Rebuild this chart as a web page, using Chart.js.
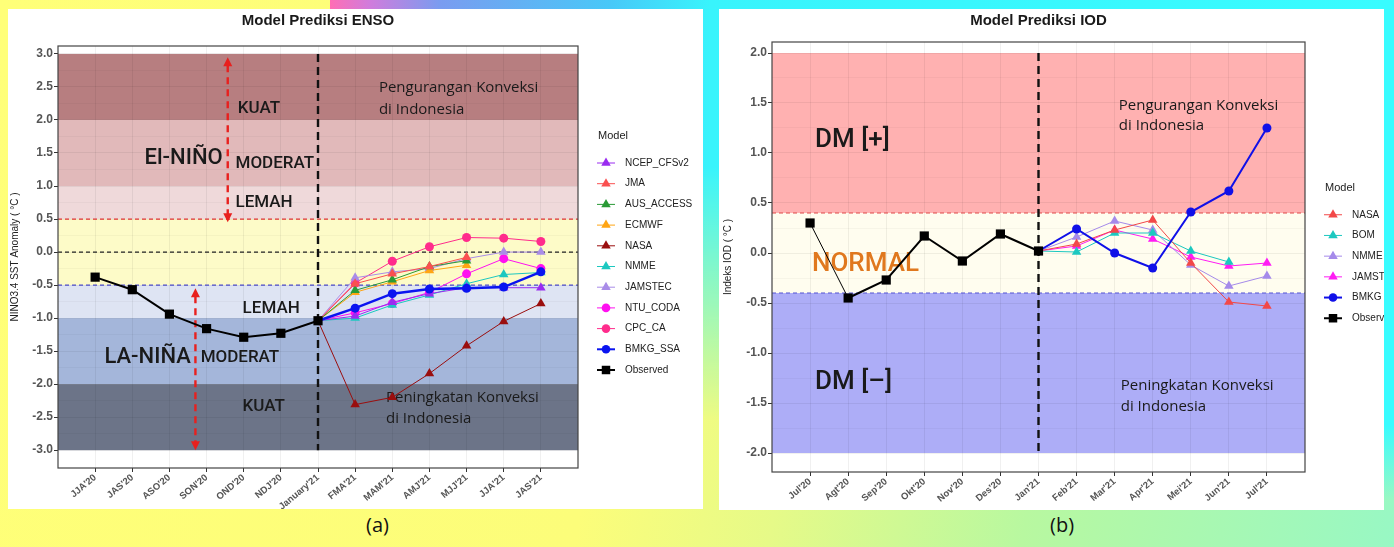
<!DOCTYPE html>
<html>
<head>
<meta charset="utf-8">
<script src="https://cdn.jsdelivr.net/npm/chart.js@4.4.0/dist/chart.umd.min.js"></script>
<style>
  html, body { margin: 0; padding: 0; }
  body {
    width: 1394px; height: 547px; overflow: hidden; position: relative;
    background: linear-gradient(100deg, #ffff78 0%, #fcfd7a 45%, #e6fa88 58%, #b8f8a0 75%, #98f8c4 100%);
    font-family: 'Liberation Sans', Arial, sans-serif;
  }
  #sky {
    position: absolute; left: 330px; top: 0; width: 1064px; height: 420px;
    background: linear-gradient(90deg, #ff6eb4 0px, #d07cdc 40px, #7a9cf0 110px, #48c8f8 280px, #38f4fc 380px, #38fcff 1064px);
    -webkit-mask-image: linear-gradient(180deg, #000 0%, #000 40%, transparent 100%);
    mask-image: linear-gradient(180deg, #000 0%, #000 40%, transparent 100%);
  }
  #edge {
    position: absolute; left: 1380px; top: 0; width: 14px; height: 500px;
    background: linear-gradient(180deg, #38fcff 0%, #38fcff 85%, rgba(56,252,255,0) 100%);
  }
  .panel { position: absolute; background: #fff; }
  #pa { left: 8px; top: 9px; width: 695px; height: 500px; }
  #pb { left: 719px; top: 9px; width: 665px; height: 501px; }
  .cap { position: absolute; top: 511px; font: 20px 'Open Sans', sans-serif; color: #111; }
</style>
</head>
<body>
<div id="sky"></div>
<div id="edge"></div>
<div class="panel" id="pa"><canvas id="enso"></canvas></div>
<div class="panel" id="pb"><canvas id="iod"></canvas></div>
<div class="cap" style="left:366px">(a)</div>
<div class="cap" style="left:1050px">(b)</div>
<script>
// ---- ENSO data ----
const ensoSeasons = ["JJA'20", "JAS'20", "ASO'20", "SON'20", "OND'20", "NDJ'20", "January'21",
  "FMA'21", "MAM'21", "AMJ'21", "MJJ'21", "JJA'21", "JAS'21"];
const ensoYTicks = [3.0, 2.5, 2.0, 1.5, 1.0, 0.5, 0.0, -0.5, -1.0, -1.5, -2.0, -2.5, -3.0];
const ensoBandEdges = [3.0, 2.0, 1.0, 0.5, -0.5, -1.0, -2.0, -3.0];
const ensoForecastStart = 6; // model runs start at January'21
const ensoObserved = [-0.38, -0.57, -0.94, -1.16, -1.29, -1.23, -1.04];
const ensoNcepCfsv2 = [-1.04, -0.97, -0.76, -0.63, -0.54, -0.54, -0.54];
const ensoJma = [-1.04, -0.48, -0.33, -0.22, -0.08];
const ensoAusAccess = [-1.04, -0.58, -0.42, -0.22, -0.13];
const ensoEcmwf = [-1.04, -0.61, -0.45, -0.28, -0.20];
const ensoNasa = [-1.04, -2.31, -2.20, -1.84, -1.42, -1.05, -0.78];
const ensoNmme = [-1.04, -1.00, -0.80, -0.65, -0.48, -0.34, -0.31];
const ensoJamstec = [-1.04, -0.39, -0.30, -0.25, -0.10, 0.00, 0.00];
const ensoNtuCoda = [-1.04, -0.92, -0.78, -0.61, -0.33, -0.10, -0.25];
const ensoCpcCa = [-1.04, -0.47, -0.14, 0.08, 0.22, 0.21, 0.16];
const ensoBmkgSsa = [-1.04, -0.85, -0.63, -0.56, -0.55, -0.53, -0.30];

// ---- IOD data ----
const iodMonths = ["Jul'20", "Agt'20", "Sep'20", "Okt'20", "Nov'20", "Des'20", "Jan'21",
  "Feb'21", "Mar'21", "Apr'21", "Mei'21", "Jun'21", "Jul'21"];
const iodYTicks = [2.0, 1.5, 1.0, 0.5, 0.0, -0.5, -1.0, -1.5, -2.0];
const iodBandEdges = [2.0, 0.4, -0.4, -2.0];
const iodForecastStart = 6; // Jan'21
const iodObserved = [0.30, -0.45, -0.27, 0.17, -0.08, 0.19, 0.02];
const iodNasa = [0.02, 0.09, 0.23, 0.33, -0.10, -0.49, -0.53];
const iodBom = [0.02, 0.01, 0.20, 0.20, 0.02, -0.09];
const iodNmme = [0.02, 0.16, 0.32, 0.23, -0.12, -0.33, -0.23];
const iodJamstec = [0.02, 0.07, 0.23, 0.14, -0.04, -0.13, -0.10];
const iodBmkg = [0.02, 0.24, 0.00, -0.15, 0.41, 0.62, 1.25];

const DIN = 'Roboto, sans-serif';
const CAL = "'Open Sans', sans-serif";

function points(values, start) {
  return values.map((v, i) => ({ x: start + i, y: v }));
}

function series(label, values, start, color, shape, width, order) {
  const r = shape === 'rect' ? 6.5 : (shape === 'circle' ? 4.5 : 5.5);
  return {
    label, data: points(values, start), order,
    borderColor: color, backgroundColor: color, borderWidth: width,
    pointStyle: shape, pointBorderWidth: 0,
    pointRadius: c => (start > 0 && c.dataIndex === 0) ? 0 : r,
    tension: 0
  };
}

function arrowHead(ctx, px, py, dir) {
  ctx.beginPath();
  ctx.moveTo(px, py);
  ctx.lineTo(px - 4.5, py - dir * 9);
  ctx.lineTo(px + 4.5, py - dir * 9);
  ctx.closePath();
  ctx.fill();
}

const decor = {
  id: 'decor',
  beforeDraw(chart, args, o) {
    const { ctx, chartArea: a, scales: { y } } = chart;
    ctx.save();
    for (let i = 0; i < o.edges.length - 1; i++) {
      const top = y.getPixelForValue(o.edges[i]);
      const bot = y.getPixelForValue(o.edges[i + 1]);
      ctx.fillStyle = o.bandColors[i];
      ctx.fillRect(a.left, top, a.right - a.left, bot - top);
    }
    ctx.restore();
  },
  beforeDatasetsDraw(chart, args, o) {
    const { ctx, chartArea: a, scales: { x, y } } = chart;
    ctx.save();
    // threshold lines
    o.hlines.forEach(h => {
      const py = y.getPixelForValue(h.y);
      ctx.strokeStyle = h.color; ctx.lineWidth = 1.2; ctx.setLineDash([4, 3]);
      ctx.beginPath(); ctx.moveTo(a.left, py); ctx.lineTo(a.right, py); ctx.stroke();
    });
    // forecast start
    const vx = x.getPixelForValue(o.vline.x);
    ctx.strokeStyle = '#111'; ctx.lineWidth = 2.4; ctx.setLineDash([8, 5]);
    ctx.beginPath(); ctx.moveTo(vx, y.getPixelForValue(o.vline.y0)); ctx.lineTo(vx, y.getPixelForValue(o.vline.y1)); ctx.stroke();
    // double arrows
    (o.arrows || []).forEach(ar => {
      const px = x.getPixelForValue(ar.x);
      const t = y.getPixelForValue(ar.y0), b = y.getPixelForValue(ar.y1);
      ctx.strokeStyle = '#e8201e'; ctx.fillStyle = '#e8201e'; ctx.lineWidth = 2.4; ctx.setLineDash([7, 5]);
      ctx.beginPath(); ctx.moveTo(px, t + 8); ctx.lineTo(px, b - 8); ctx.stroke();
      ctx.setLineDash([]);
      arrowHead(ctx, px, t, -1);
      arrowHead(ctx, px, b, 1);
    });
    ctx.setLineDash([]);
    // labels
    ctx.textAlign = 'left'; ctx.textBaseline = 'middle';
    o.texts.forEach(t => {
      ctx.font = t.font; ctx.fillStyle = t.color || '#1a1a1a';
      ctx.fillText(t.text, x.getPixelForValue(t.x), y.getPixelForValue(t.y));
    });
    ctx.restore();
  },
  afterDatasetsDraw(chart) {
    const { ctx, chartArea: a } = chart;
    ctx.save();
    ctx.strokeStyle = '#444'; ctx.lineWidth = 1.2;
    ctx.strokeRect(a.left, a.top, a.right - a.left, a.bottom - a.top);
    ctx.restore();
  },
  afterDraw(chart, args, o) {
    const { ctx, chartArea: a } = chart;
    const sets = chart.data.datasets;
    const step = 20.7;
    const mid = (a.top + a.bottom) / 2;
    const ty = mid - (27 + (sets.length - 1) * step) / 2 - 4;
    ctx.save();
    ctx.textAlign = 'left'; ctx.textBaseline = 'middle';
    ctx.fillStyle = '#222'; ctx.font = "11px 'Liberation Sans', Arial";
    ctx.fillText('Model', a.right + o.legendX - 8, ty);
    ctx.font = "10px 'Liberation Sans', Arial";
    sets.forEach((d, i) => {
      const cy = ty + 27 + i * step, cx = a.right + o.legendX;
      ctx.strokeStyle = d.borderColor; ctx.lineWidth = Math.min(d.borderWidth, 2);
      ctx.beginPath(); ctx.moveTo(cx - 9, cy); ctx.lineTo(cx + 9, cy); ctx.stroke();
      ctx.fillStyle = d.backgroundColor;
      const r = d.pointStyle === 'rect' ? 6 : (d.pointStyle === 'circle' ? 4.3 : 5.5);
      Chart.helpers.drawPoint(ctx, { pointStyle: d.pointStyle, radius: r, borderWidth: 0, rotation: 0 }, cx, cy);
      ctx.fillStyle = '#222';
      ctx.fillText(d.label, a.right + o.legendX + 19, cy);
    });
    ctx.restore();
  }
};

function yAxis(ticks, min, max, width, title, titlePad) {
  const major = v => ticks.includes(v);
  return {
    type: 'linear', min, max,
    afterFit: s => { s.width = width; },
    afterBuildTicks: s => {
      const vals = [];
      ticks.forEach((t, i) => { vals.push(t); if (i < ticks.length - 1) vals.push((t + ticks[i + 1]) / 2); });
      s.ticks = vals.map(v => ({ value: v }));
    },
    ticks: {
      callback: v => major(v) ? v.toFixed(1) : '',
      color: '#555', font: { family: "'Liberation Sans', Arial", size: 12, weight: 'bold' }, padding: 1
    },
    grid: {
      color: c => major(c.tick.value) ? 'rgba(0,0,0,0.06)' : 'rgba(0,0,0,0.03)',
      tickColor: c => major(c.tick.value) ? '#333' : 'rgba(0,0,0,0)',
      tickLength: 4, lineWidth: 1
    },
    border: { display: false },
    title: { display: true, text: title, color: '#222', font: { family: "'Liberation Sans', Arial", size: 10 }, padding: { top: titlePad, bottom: 0 } }
  };
}

function xAxis(labels, height) {
  return {
    type: 'linear', min: -1, max: labels.length,
    afterFit: s => { s.height = height; },
    afterBuildTicks: s => { s.ticks = labels.map((_, i) => ({ value: i })); },
    ticks: {
      callback: v => labels[v], autoSkip: false, minRotation: 40, maxRotation: 40,
      color: '#555', font: { family: "'Liberation Sans', Arial", size: 9.5, weight: 'bold' }, padding: 0
    },
    grid: { color: 'rgba(0,0,0,0.06)', tickColor: '#333', tickLength: 4 },
    border: { display: false }
  };
}

function titleOpts(text, top, bottom) {
  return {
    display: true, text, fullSize: false, color: '#1a1a1a',
    font: { family: "'Liberation Sans', Arial", size: 15, weight: 'bold' },
    padding: { top, bottom }
  };
}

const s = ensoForecastStart;
new Chart(document.getElementById('enso'), {
  type: 'line',
  data: {
    datasets: [
      series('NCEP_CFSv2', ensoNcepCfsv2, s, '#9a2cf0', 'triangle', 1, 5),
      series('JMA', ensoJma, s, '#fa5050', 'triangle', 1, 5),
      series('AUS_ACCESS', ensoAusAccess, s, '#2a9a36', 'triangle', 1, 5),
      series('ECMWF', ensoEcmwf, s, '#ffa514', 'triangle', 1, 5),
      series('NASA', ensoNasa, s, '#9a0e0e', 'triangle', 1, 5),
      series('NMME', ensoNmme, s, '#1cc8c0', 'triangle', 1, 5),
      series('JAMSTEC', ensoJamstec, s, '#a98ce8', 'triangle', 1, 5),
      series('NTU_CODA', ensoNtuCoda, s, '#ff10f0', 'circle', 1, 5),
      series('CPC_CA', ensoCpcCa, s, '#ff2c8c', 'circle', 1, 5),
      series('BMKG_SSA', ensoBmkgSsa, s, '#0a14f0', 'circle', 2.5, 1),
      series('Observed', ensoObserved, 0, '#000000', 'rect', 2, 0)
    ]
  },
  plugins: [decor],
  options: {
    responsive: true, maintainAspectRatio: false, animation: false,
    layout: { padding: { left: 0, right: 125, top: 0, bottom: 0 } },
    plugins: {
      legend: { display: false }, tooltip: { enabled: false },
      title: titleOpts('Model Prediksi ENSO', 3, 16),
      decor: {
        edges: ensoBandEdges,
        bandColors: ['#b77e80', '#e1b9ba', '#efd9da', '#fdfbc8', '#dee4f3', '#a4b6da', '#6c7488'],
        hlines: [{ y: 0.5, color: '#e03434' }, { y: 0, color: '#222' }, { y: -0.5, color: '#4a4ac8' }],
        vline: { x: 6, y0: 3.0, y1: -3.0 },
        arrows: [{ x: 3.57, y0: 2.95, y1: 0.45 }, { x: 2.70, y0: -0.55, y1: -3.0 }],
        texts: [
          { text: 'KUAT', x: 3.84, y: 2.17, font: '500 17px ' + DIN },
          { text: 'MODERAT', x: 3.78, y: 1.34, font: '500 17px ' + DIN },
          { text: 'LEMAH', x: 3.78, y: 0.75, font: '500 17px ' + DIN },
          { text: 'El-NIÑO', x: 1.33, y: 1.42, font: '500 22px ' + DIN },
          { text: 'Pengurangan Konveksi', x: 7.64, y: 2.49, font: '15px ' + CAL },
          { text: 'di Indonesia', x: 7.64, y: 2.16, font: '15px ' + CAL },
          { text: 'LEMAH', x: 3.97, y: -0.86, font: '500 17px ' + DIN },
          { text: 'LA-NIÑA', x: 0.25, y: -1.60, font: '500 22px ' + DIN },
          { text: 'MODERAT', x: 2.84, y: -1.60, font: '500 17px ' + DIN },
          { text: 'KUAT', x: 3.97, y: -2.34, font: '500 17px ' + DIN },
          { text: 'Peningkatan Konveksi', x: 7.83, y: -2.20, font: '15px ' + CAL },
          { text: 'di Indonesia', x: 7.83, y: -2.52, font: '15px ' + CAL }
        ],
        legendX: 28
      }
    },
    scales: {
      x: xAxis(ensoSeasons, 41),
      y: yAxis(ensoYTicks, -3.27, 3.12, 50, 'NINO3.4 SST Anomaly ( °C )', 1)
    }
  }
});

const t = iodForecastStart;
const iodObservedSet = series('Observed', iodObserved, 0, '#000000', 'rect', 2, 0);
iodObservedSet.segment = { borderWidth: c => c.p0DataIndex === 0 ? 1 : 2 };
new Chart(document.getElementById('iod'), {
  type: 'line',
  data: {
    datasets: [
      series('NASA', iodNasa, t, '#f24848', 'triangle', 1, 5),
      series('BOM', iodBom, t, '#1cc8c0', 'triangle', 1, 5),
      series('NMME', iodNmme, t, '#a58aea', 'triangle', 1, 5),
      series('JAMSTEC', iodJamstec, t, '#ff1cf4', 'triangle', 1, 5),
      series('BMKG', iodBmkg, t, '#1010e8', 'circle', 2, 1),
      iodObservedSet
    ]
  },
  plugins: [decor],
  options: {
    responsive: true, maintainAspectRatio: false, animation: false,
    layout: { padding: { left: 0, right: 79, top: 0, bottom: 0 } },
    plugins: {
      legend: { display: false }, tooltip: { enabled: false },
      title: titleOpts('Model Prediksi IOD', 3, 12),
      decor: {
        edges: iodBandEdges,
        bandColors: ['#ffb1b1', '#fffdef', '#adadf7'],
        hlines: [{ y: 0.4, color: '#e04848' }, { y: -0.4, color: '#5252d2' }],
        vline: { x: 6, y0: 2.0, y1: -2.0 },
        texts: [
          { text: 'DM [+]', x: 0.13, y: 1.13, font: '500 26px ' + DIN },
          { text: 'NORMAL', x: 0.05, y: -0.11, font: '500 26px ' + DIN, color: '#e0781e' },
          { text: 'DM [–]', x: 0.13, y: -1.29, font: '500 26px ' + DIN },
          { text: 'Pengurangan Konveksi', x: 8.11, y: 1.47, font: '15px ' + CAL },
          { text: 'di Indonesia', x: 8.11, y: 1.27, font: '15px ' + CAL },
          { text: 'Peningkatan Konveksi', x: 8.16, y: -1.33, font: '15px ' + CAL },
          { text: 'di Indonesia', x: 8.16, y: -1.54, font: '15px ' + CAL }
        ],
        legendX: 28
      }
    },
    scales: {
      x: xAxis(iodMonths, 38),
      y: yAxis(iodYTicks, -2.19, 2.11, 53, 'Indeks IOD ( °C )', 3)
    }
  }
});
</script>
</body>
</html>
